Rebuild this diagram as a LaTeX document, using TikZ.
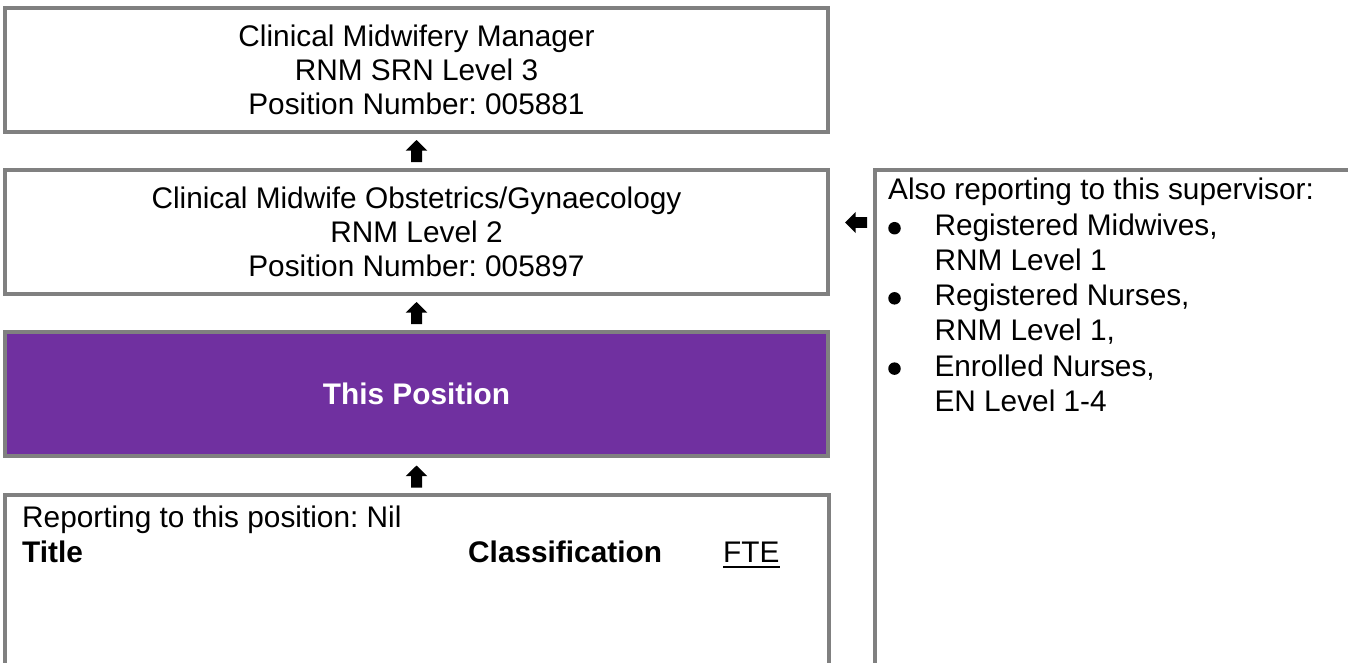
\documentclass[tikz,border=0pt]{standalone}
\usepackage{fontspec}
\setmainfont{Liberation Sans}
\usetikzlibrary{calc}
\frenchspacing
\definecolor{bordergray}{HTML}{808080}
\definecolor{posviolet}{HTML}{7030A0}
\tikzset{
  box/.style={draw=bordergray, line width=4pt, minimum width=823pt, minimum height=124pt,
    inner sep=0pt, align=center, font=\fontsize{29.8}{34.3}\selectfont},
  openline/.style={draw=bordergray, line width=4pt, line join=miter},
  txt/.style={inner sep=0pt, anchor=base west, font=\fontsize{29.8}{34.3}\selectfont},
  uparrow/.pic={\fill[black] (0,-11) -- (10.85,-0.3) -- (5.5,-0.3) -- (5.5,11) -- (-5.5,11) -- (-5.5,-0.3) -- (-10.85,-0.3) -- cycle;},
  leftarrow/.pic={\fill[black] (-11,0) -- (-0.3,-10.6) -- (-0.3,-5.3) -- (11,-5.3) -- (11,5.3) -- (-0.3,5.3) -- (-0.3,10.6) -- cycle;},
  bulletdot/.style={circle, fill=black, minimum size=12.5pt, inner sep=0pt}
}
\begin{document}
\begin{tikzpicture}[x=1pt,y=-1pt]
\useasboundingbox[fill=white] (0,0) rectangle (1348,662);

% boxes
\node[box] (c1) at (416.5,70) {Clinical Midwifery Manager\\RNM SRN Level 3\\Position Number: 005881};
\node[box] (c2) at (416.5,232) {Clinical Midwife Obstetrics/Gynaecology\\RNM Level 2\\Position Number: 005897};
\node[box, fill=posviolet, text=white, font=\fontsize{29.8}{34.3}\selectfont\bfseries] (c3) at (416.5,394) {This Position};

% reporting box (open at bottom)
\coordinate (r4) at (416.5,495);
\draw[openline] (5,664) -- (5,495) -- (829,495) -- (829,664);
\node[txt] (rep) at (22,527) {Reporting to this position: Nil};
\node[txt, font=\fontsize{29.8}{34.3}\selectfont\bfseries] (ttl) at (22,562) {Title};
\node[txt, font=\fontsize{29.8}{34.3}\selectfont\bfseries] (cls) at (468,562) {Classification};
\node[txt] (fte) at (723,562) {FTE};
\draw[line width=2pt] ([yshift=-4.5pt]fte.base west) -- ([yshift=-4.5pt]fte.base east);

% side box (open at right and bottom)
\draw[openline] (875,664) -- (875,170) -- (1350,170);
\node[txt] (also) at (888,199) {Also reporting to this supervisor:};
\node[bulletdot] (b1) at (894.5,228.2) {};
\node[txt] (s1) at (934.3,235.5) {Registered Midwives,};
\node[txt] (s1b) at (934.3,270.7) {RNM Level 1};
\node[bulletdot] (b2) at (894.5,298.3) {};
\node[txt] (s2) at (934.3,305.7) {Registered Nurses,};
\node[txt] (s2b) at (934.3,340.7) {RNM Level 1,};
\node[bulletdot] (b3) at (894.5,368.6) {};
\node[txt] (s3) at (934.3,376) {Enrolled Nurses,};
\node[txt] (s3b) at (934.3,411) {EN Level 1-4};

% arrows
\coordinate (a1) at ($(c1.south)!0.5!(c2.north)$);
\coordinate (a2) at ($(c2.south)!0.5!(c3.north)$);
\coordinate (a3) at ($(c3.south)!0.5!(r4)$);
\pic at (a1) {uparrow};
\pic at (a2) {uparrow};
\pic at (a3) {uparrow};
\coordinate (a4) at (856,222.5);
\pic at (a4) {leftarrow};
\end{tikzpicture}
\end{document}
